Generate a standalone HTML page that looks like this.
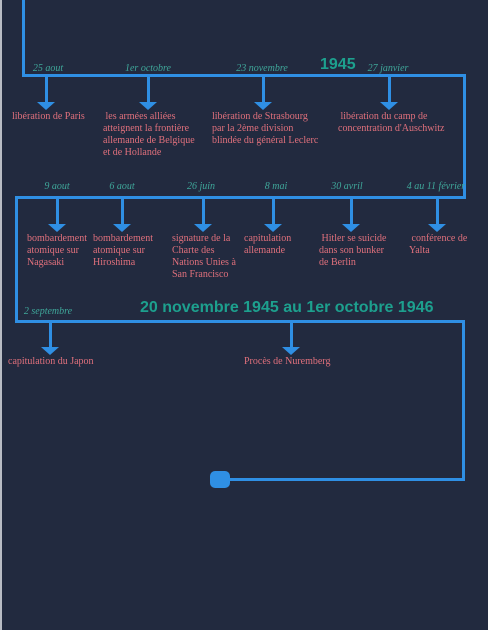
<!DOCTYPE html>
<html><head><meta charset="utf-8"><style>
body{margin:0;width:488px;height:630px;background:#222a3f;position:relative;overflow:hidden;font-family:"Liberation Serif",serif}
.strip{position:absolute;left:0;top:0;width:2px;height:630px;background:#b8bcc4}
.l{position:absolute;background:#2f8fe4}
.arr{position:absolute;width:3px;background:#2f8fe4}
.arr::after{content:"";position:absolute;left:-8px;bottom:-6px;border-left:9.5px solid transparent;border-right:9.5px solid transparent;border-top:8px solid #2f8fe4}
.d{position:absolute;font-style:italic;font-size:10px;color:#3fa79a;white-space:nowrap;transform:translateX(-50%)}
.t{position:absolute;font-size:10px;line-height:12px;color:#e0707c}
.h{position:absolute;font-family:"Liberation Sans",sans-serif;font-weight:bold;color:#1da08e}
</style></head><body>
<div class="strip"></div>
<div class="l" style="left:22px;top:0;width:3px;height:77px"></div>
<div class="l" style="left:22px;top:74px;width:444px;height:3px"></div>
<div class="l" style="left:463px;top:74px;width:3px;height:125px"></div>
<div class="l" style="left:15px;top:196px;width:451px;height:3px"></div>
<div class="l" style="left:15px;top:196px;width:3px;height:127px"></div>
<div class="l" style="left:15px;top:320px;width:450px;height:3px"></div>
<div class="l" style="left:462px;top:320px;width:3px;height:161px"></div>
<div class="l" style="left:220px;top:478px;width:245px;height:3px"></div>
<div class="l" style="left:210px;top:471px;width:20px;height:17px;border-radius:5px"></div>

<div class="h" style="left:320px;top:56px;font-size:16px">1945</div>
<div class="h" style="left:140px;top:299px;font-size:16px">20 novembre 1945 au 1er octobre 1946</div>

<div class="arr" style="left:45px;top:77px;height:27px"></div>
<div class="arr" style="left:147px;top:77px;height:27px"></div>
<div class="arr" style="left:262px;top:77px;height:27px"></div>
<div class="arr" style="left:388px;top:77px;height:27px"></div>
<div class="d" style="left:48px;top:63px">25 aout</div>
<div class="d" style="left:148px;top:63px">1er octobre</div>
<div class="d" style="left:262px;top:63px">23 novembre</div>
<div class="d" style="left:388px;top:63px">27 janvier</div>
<div class="t" style="left:12px;top:111px">libération de Paris</div>
<div class="t" style="left:103px;top:111px;width:95px">&nbsp;les armées alliées atteignent la frontière allemande de Belgique et de Hollande</div>
<div class="t" style="left:212px;top:111px;width:110px">libération de Strasbourg par la 2ème division blindée du général Leclerc</div>
<div class="t" style="left:338px;top:111px;width:110px">&nbsp;libération du camp de concentration d'Auschwitz</div>

<div class="arr" style="left:56px;top:199px;height:27px"></div>
<div class="arr" style="left:121px;top:199px;height:27px"></div>
<div class="arr" style="left:202px;top:199px;height:27px"></div>
<div class="arr" style="left:272px;top:199px;height:27px"></div>
<div class="arr" style="left:350px;top:199px;height:27px"></div>
<div class="arr" style="left:436px;top:199px;height:27px"></div>
<div class="d" style="left:57px;top:181px">9 aout</div>
<div class="d" style="left:122px;top:181px">6 aout</div>
<div class="d" style="left:201px;top:181px">26 juin</div>
<div class="d" style="left:276px;top:181px">8 mai</div>
<div class="d" style="left:347px;top:181px">30 avril</div>
<div class="d" style="left:436px;top:181px">4 au 11 février</div>
<div class="t" style="left:27px;top:233px;width:62px">bombardement atomique sur Nagasaki</div>
<div class="t" style="left:93px;top:233px;width:62px">bombardement atomique sur Hiroshima</div>
<div class="t" style="left:172px;top:233px;width:66px">signature de la Charte des Nations Unies à San Francisco</div>
<div class="t" style="left:244px;top:233px;width:60px">capitulation allemande</div>
<div class="t" style="left:319px;top:233px;width:70px">&nbsp;Hitler se suicide dans son bunker de Berlin</div>
<div class="t" style="left:409px;top:233px;width:62px">&nbsp;conférence de Yalta</div>

<div class="arr" style="left:49px;top:322px;height:27px"></div>
<div class="arr" style="left:290px;top:322px;height:27px"></div>
<div class="d" style="left:48px;top:306px">2 septembre</div>
<div class="t" style="left:8px;top:356px">capitulation du Japon</div>
<div class="t" style="left:244px;top:356px">Procès de Nuremberg</div>
</body></html>
